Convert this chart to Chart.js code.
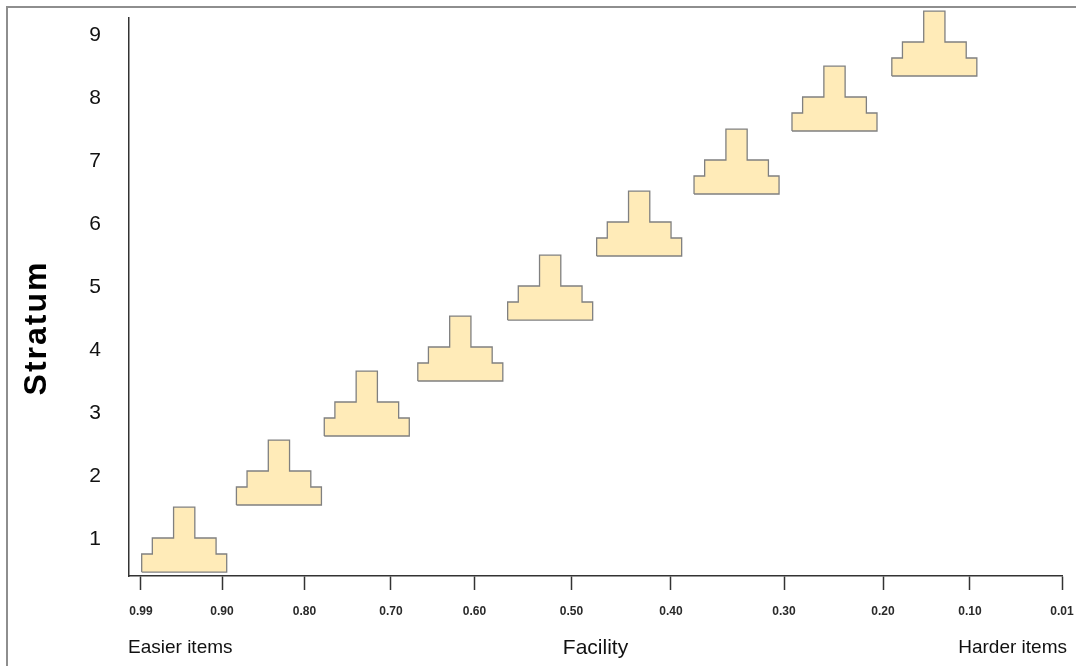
<!DOCTYPE html>
<html>
<head>
<meta charset="utf-8">
<script src="https://cdn.jsdelivr.net/npm/chart.js@4/dist/chart.umd.min.js"></script>
<style>
html,body{margin:0;padding:0;background:#fff;}
#wrap{width:1076px;height:666px;}
</style>
</head>
<body>
<div id="wrap"><canvas id="c" width="1076" height="666"></canvas></div>
<script>
// ---- data ----
const tickLabels = ['0.99','0.90','0.80','0.70','0.60','0.50','0.40','0.30','0.20','0.10','0.01'];
const tickFacility = [0.99,0.90,0.80,0.70,0.60,0.50,0.40,0.30,0.20,0.10,0.01];
const strata = [1,2,3,4,5,6,7,8,9];
// facility at the centre of each stratum's histogram
const stratumFacility = [0.942,0.831,0.728,0.617,0.522,0.432,0.342,0.249,0.141];
// baseline level of each stratum's histogram (stratum-axis units)
const stratumBase = [0.476,1.540,2.635,3.508,4.476,5.492,6.476,7.476,8.349];
// relative frequency of the 8 facility bins (same profile in every stratum)
const binFreq = [0.286,0.54,0.54,1.03,1.03,0.54,0.54,0.286];

// ---- axis layout (the facility axis is drawn with uneven spacing) ----
const AXIS_ANCHOR = [1.286,9.968,18.81,28.081,37.031,47.428,58.092,70.204,80.815,90.139,100];
const BIN_W = 1.139;
const FONT = '"Liberation Sans", Arial, Helvetica, sans-serif';

function facilityToAxis(f){
  for (let i=0;i<tickFacility.length-1;i++){
    const a=tickFacility[i], b=tickFacility[i+1];
    if (f<=a && f>=b){
      const t=(a-f)/(a-b);
      return AXIS_ANCHOR[i]+t*(AXIS_ANCHOR[i+1]-AXIS_ANCHOR[i]);
    }
  }
  return f>tickFacility[0]?AXIS_ANCHOR[0]:AXIS_ANCHOR[AXIS_ANCHOR.length-1];
}
function histogramOutline(k){
  const c = facilityToAxis(stratumFacility[k]);
  const b = stratumBase[k];
  const n = binFreq.length;
  const x0 = c - BIN_W*n/2;
  const pts=[{x:x0,y:b}];
  binFreq.forEach((h,i)=>{
    pts.push({x:x0+i*BIN_W,y:b+h});
    pts.push({x:x0+(i+1)*BIN_W,y:b+h});
  });
  pts.push({x:x0+n*BIN_W,y:b});
  pts.push({x:x0,y:b});
  return pts;
}

const datasets = strata.map((s,k)=>({
  label:'Stratum '+s,
  data:histogramOutline(k),
  fill:'shape',
  backgroundColor:'#FFEBB8',
  borderColor:'#808080',
  borderWidth:1.3,
  pointRadius:0,
  pointHoverRadius:0,
  tension:0,
  clip:false
}));

let savedTop = null;
const decor = {
  id:'decor',
  beforeDraw(chart){
    const ctx=chart.ctx;
    ctx.save();
    ctx.fillStyle='#ffffff';
    ctx.fillRect(0,0,chart.width,chart.height);
    ctx.restore();
  },
  beforeDatasetsDraw(chart){
    // let the top histogram's fill extend above the plot frame, as in the original
    savedTop = chart.chartArea.top;
    chart.chartArea.top = 0;
  },
  afterDatasetsDraw(chart){
    if (savedTop!==null){ chart.chartArea.top = savedTop; savedTop=null; }
  },
  afterDraw(chart){
    const ctx=chart.ctx;
    ctx.save();
    ctx.strokeStyle='#8e8e8e';
    ctx.lineWidth=2;
    ctx.beginPath();
    ctx.moveTo(7,chart.height);
    ctx.lineTo(7,7);
    ctx.lineTo(chart.width,7);
    ctx.stroke();
    ctx.fillStyle='#000';
    ctx.font='bold 32px '+FONT;
    try{ctx.letterSpacing='2px';}catch(e){}
    ctx.translate(37,328);
    ctx.rotate(-Math.PI/2);
    ctx.textAlign='center';
    ctx.textBaseline='middle';
    ctx.fillText('Stratum',0,0);
    ctx.restore();
    ctx.save();
    ctx.fillStyle='#111';
    ctx.font='19px '+FONT;
    ctx.textBaseline='alphabetic';
    ctx.textAlign='left';
    ctx.fillText('Easier items',128,653);
    ctx.textAlign='right';
    ctx.fillText('Harder items',1067,653);
    ctx.restore();
  }
};

new Chart(document.getElementById('c'),{
  type:'line',
  data:{datasets},
  plugins:[decor],
  options:{
    responsive:false,
    animation:false,
    devicePixelRatio:1,
    layout:{padding:{left:0,right:14,top:18,bottom:0}},
    plugins:{legend:{display:false},tooltip:{enabled:false},title:{display:false}},
    scales:{
      x:{
        type:'linear',
        min:0,max:100,
        afterBuildTicks:s=>{s.ticks=AXIS_ANCHOR.map(v=>({value:v}));},
        afterFit:s=>{s.height=90;s.paddingLeft=0;s.paddingRight=0;s.paddingTop=0;s.paddingBottom=0;},
        ticks:{autoSkip:false,maxRotation:0,minRotation:0,padding:14,color:'#2a2a2a',
          font:{family:FONT,size:12,weight:'bold'},
          callback:(v,i)=>tickLabels[i]},
        grid:{display:true,drawOnChartArea:false,drawTicks:true,tickLength:14,tickColor:'#333',tickWidth:1.5},
        border:{display:true,color:'#333',width:1.5},
        title:{display:true,text:'Facility',color:'#111',font:{family:FONT,size:21},padding:{top:0,bottom:5}}
      },
      y:{
        type:'linear',
        min:0.413,max:9.27,
        afterBuildTicks:s=>{s.ticks=strata.map(v=>({value:v}));},
        afterFit:s=>{s.width=129;s.paddingLeft=0;s.paddingRight=0;s.paddingTop=0;s.paddingBottom=0;},
        ticks:{padding:28,color:'#111',font:{family:FONT,size:21},callback:v=>String(v)},
        grid:{display:false,drawTicks:false},
        border:{display:true,color:'#333',width:1.5}
      }
    }
  }
});
</script>
</body>
</html>
